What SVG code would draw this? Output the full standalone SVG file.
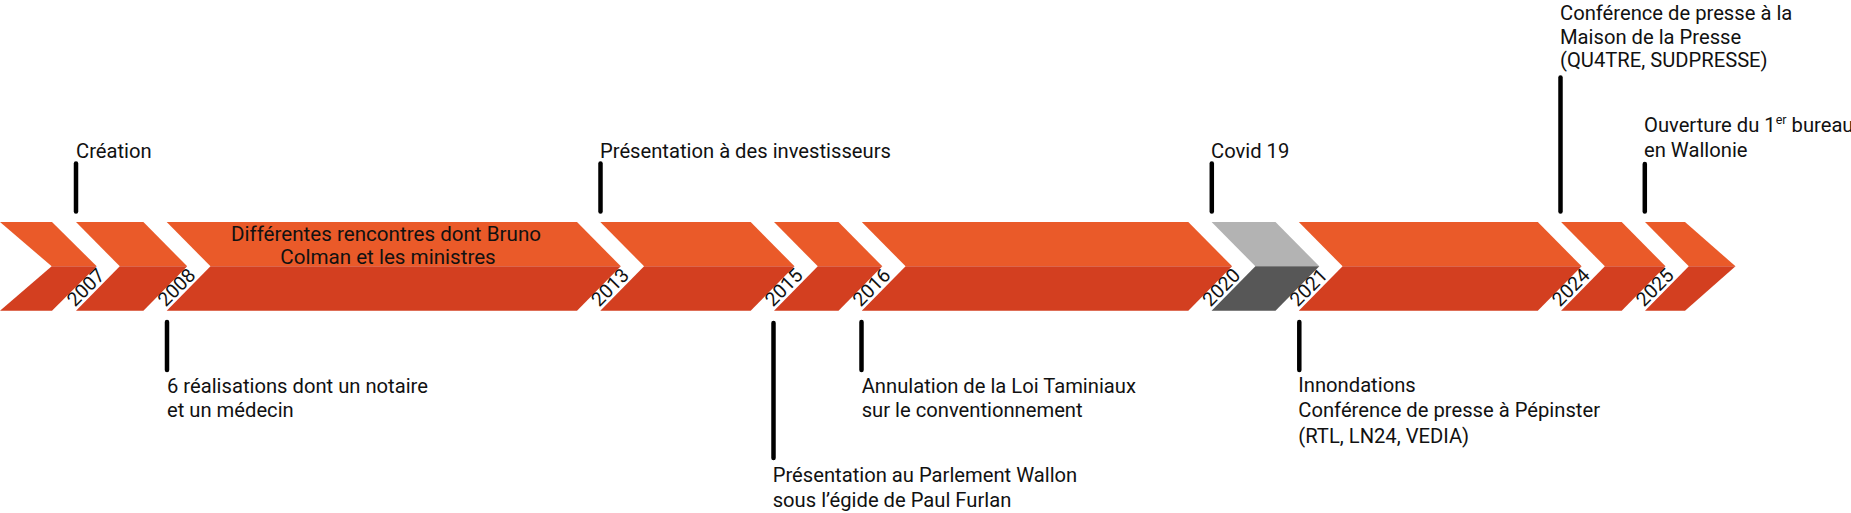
<svg xmlns="http://www.w3.org/2000/svg" width="1851" height="513" viewBox="0 0 1851 513">
  <style>
    .up { fill: #EA5A29; }
    .lo { fill: #D33F20; }
    .gup { fill: #B3B3B3; }
    .glo { fill: #575757; }
    .t { font-family: Roboto, "Liberation Sans", sans-serif; font-size: 20.2px; fill: #111111; }
    .mid { font-size: 20.6px; }
    .yr { font-family: Roboto, "Liberation Sans", sans-serif; font-size: 19.5px; fill: #111111; }
    .tick { stroke: #000000; stroke-width: 4.5; stroke-linecap: round; fill: none; }
  </style>
  <rect width="1851" height="513" fill="#FFFFFF"/>

  <g id="seg-start">
    <polygon class="up" points="0,222 52,222 96.7,266.3 51.7,266.3"/>
    <polygon class="lo" points="51.7,266.3 96.7,266.3 52,310.7 0,310.7"/>
  </g>
  <g id="seg-2007">
    <polygon class="up" points="76,222 143.4,222 187.2,266.3 119.8,266.3"/>
    <polygon class="lo" points="119.8,266.3 187.2,266.3 143.4,310.7 76,310.7"/>
    <text class="yr" transform="translate(75,307.5) rotate(-45)">2007</text>
  </g>
  <g id="seg-2008">
    <polygon class="up" points="166.7,222 577,222 620.8,266.3 210.5,266.3"/>
    <polygon class="lo" points="210.5,266.3 620.8,266.3 577,310.7 166.7,310.7"/>
    <text class="yr" transform="translate(165.7,307.5) rotate(-45)">2008</text>
    <text class="t mid" x="386" y="240.5" text-anchor="middle">Différentes rencontres dont Bruno</text>
    <text class="t mid" x="388" y="264" text-anchor="middle">Colman et les ministres</text>
  </g>
  <g id="seg-2013">
    <polygon class="up" points="600.3,222 750.7,222 794.5,266.3 644.1,266.3"/>
    <polygon class="lo" points="644.1,266.3 794.5,266.3 750.7,310.7 600.3,310.7"/>
    <text class="yr" transform="translate(599.3,307.5) rotate(-45)">2013</text>
  </g>
  <g id="seg-2015">
    <polygon class="up" points="774,222 838.5,222 882.3,266.3 817.8,266.3"/>
    <polygon class="lo" points="817.8,266.3 882.3,266.3 838.5,310.7 774,310.7"/>
    <text class="yr" transform="translate(773,307.5) rotate(-45)">2015</text>
  </g>
  <g id="seg-2016">
    <polygon class="up" points="861.8,222 1188.3,222 1232.1,266.3 905.6,266.3"/>
    <polygon class="lo" points="905.6,266.3 1232.1,266.3 1188.3,310.7 861.8,310.7"/>
    <text class="yr" transform="translate(860.8,307.5) rotate(-45)">2016</text>
  </g>
  <g id="seg-2020">
    <polygon class="gup" points="1211.6,222 1275.5,222 1319.3,266.3 1255.4,266.3"/>
    <polygon class="glo" points="1255.4,266.3 1319.3,266.3 1275.5,310.7 1211.6,310.7"/>
    <text class="yr" transform="translate(1210.6,307.5) rotate(-45)">2020</text>
  </g>
  <g id="seg-2021">
    <polygon class="up" points="1298.8,222 1537.8,222 1581.6,266.3 1342.6,266.3"/>
    <polygon class="lo" points="1342.6,266.3 1581.6,266.3 1537.8,310.7 1298.8,310.7"/>
    <text class="yr" transform="translate(1297.8,307.5) rotate(-45)">2021</text>
  </g>
  <g id="seg-2024">
    <polygon class="up" points="1561.1,222 1621.7,222 1665.5,266.3 1604.9,266.3"/>
    <polygon class="lo" points="1604.9,266.3 1665.5,266.3 1621.7,310.7 1561.1,310.7"/>
    <text class="yr" transform="translate(1560.1,307.5) rotate(-45)">2024</text>
  </g>
  <g id="seg-2025">
    <polygon class="up" points="1645,222 1685,222 1735.5,266.3 1688.8,266.3"/>
    <polygon class="lo" points="1688.8,266.3 1735.5,266.3 1685,310.7 1645,310.7"/>
    <text class="yr" transform="translate(1644,307.5) rotate(-45)">2025</text>
  </g>

  <g id="connectors">
    <line class="tick" x1="76" y1="163.5" x2="76" y2="211.5"/>
    <line class="tick" x1="600.5" y1="163.5" x2="600.5" y2="211.5"/>
    <line class="tick" x1="1211.8" y1="163.5" x2="1211.8" y2="211.5"/>
    <line class="tick" x1="1560.5" y1="77.5" x2="1560.5" y2="211.5"/>
    <line class="tick" x1="1644.8" y1="164" x2="1644.8" y2="211.5"/>
    <line class="tick" x1="167" y1="322" x2="167" y2="370"/>
    <line class="tick" x1="773.5" y1="323" x2="773.5" y2="458"/>
    <line class="tick" x1="861.5" y1="322" x2="861.5" y2="370"/>
    <line class="tick" x1="1299.3" y1="322" x2="1299.3" y2="370"/>
  </g>

  <g id="note-creation">
    <text class="t" x="76" y="158">Création</text>
  </g>
  <g id="note-investisseurs">
    <text class="t" x="600" y="158">Présentation à des investisseurs</text>
  </g>
  <g id="note-covid">
    <text class="t" x="1211" y="158">Covid 19</text>
  </g>
  <g id="note-maison-presse">
    <text class="t" x="1560" y="19.8">Conférence de presse à la</text>
    <text class="t" x="1560" y="43.5">Maison de la Presse</text>
    <text class="t" x="1560" y="67.2">(QU4TRE, SUDPRESSE)</text>
  </g>
  <g id="note-wallonie">
    <text class="t" x="1644" y="131.5">Ouverture du 1<tspan font-size="12.5" dy="-7.5">er</tspan><tspan dy="7.5"> bureau</tspan></text>
    <text class="t" x="1644" y="156.5">en Wallonie</text>
  </g>
  <g id="note-realisations">
    <text class="t" x="167" y="392.7">6 réalisations dont un notaire</text>
    <text class="t" x="167" y="417.3">et un médecin</text>
  </g>
  <g id="note-parlement">
    <text class="t" x="772.7" y="482">Présentation au Parlement Wallon</text>
    <text class="t" x="772.7" y="507">sous l’égide de Paul Furlan</text>
  </g>
  <g id="note-taminiaux">
    <text class="t" x="861.7" y="392.7">Annulation de la Loi Taminiaux</text>
    <text class="t" x="861.7" y="417.3">sur le conventionnement</text>
  </g>
  <g id="note-pepinster">
    <text class="t" x="1298.3" y="392">Innondations</text>
    <text class="t" x="1298.3" y="417.3">Conférence de presse à Pépinster</text>
    <text class="t" x="1298.3" y="442.7">(RTL, LN24, VEDIA)</text>
  </g>
</svg>
